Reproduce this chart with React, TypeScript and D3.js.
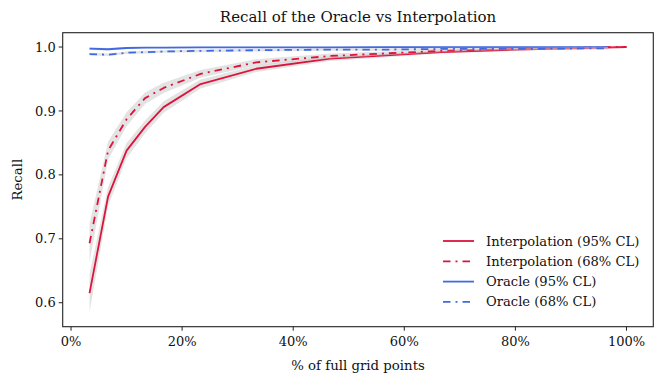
import React from 'react';
import * as d3 from 'd3';

// % of full grid points
const xInterp = [3.33, 6.67, 10, 13.33, 16.67, 23.33, 33.33, 46.67, 56.67, 66.67, 80, 90, 100];
const interp95 = [0.615, 0.766, 0.838, 0.875, 0.906, 0.942, 0.966, 0.982, 0.987, 0.992, 0.996, 0.998, 1.0];
const interp95Err = [0.03, 0.015, 0.012, 0.01, 0.009, 0.007, 0.005, 0.004, 0.003, 0.002, 0.002, 0.001, 0.0];
const interp68 = [0.693, 0.838, 0.887, 0.92, 0.936, 0.958, 0.976, 0.986, 0.99, 0.994, 0.997, 0.999, 1.0];
const interp68Err = [0.03, 0.014, 0.011, 0.009, 0.008, 0.006, 0.005, 0.004, 0.003, 0.002, 0.001, 0.001, 0.0];

const xOracle = [3.33, 6.67, 10, 13.33, 16.67, 23.33, 33.33, 46.67, 56.67, 66.67, 80, 96.67];
const oracle95 = [0.9975, 0.9965, 0.9985, 0.999, 0.9992, 0.9994, 0.9995, 0.9996, 0.9997, 0.9998, 0.9998, 0.9999];
const oracle95Err = [0.002, 0.002, 0.0015, 0.001, 0.001, 0.001, 0.001, 0.001, 0.001, 0.001, 0.001, 0.001];
const oracle68 = [0.989, 0.988, 0.991, 0.992, 0.993, 0.994, 0.995, 0.996, 0.996, 0.997, 0.997, 0.998];
const oracle68Err = [0.002, 0.002, 0.002, 0.002, 0.002, 0.002, 0.002, 0.002, 0.002, 0.002, 0.002, 0.002];

const xTicks = [0, 20, 40, 60, 80, 100];
const yTicks = [0.6, 0.7, 0.8, 0.9, 1.0];

const legendLabels = ['Interpolation (95% CL)', 'Interpolation (68% CL)', 'Oracle (95% CL)', 'Oracle (68% CL)'];

const RED = '#dc143c';
const BLUE = '#4169e1';
const DASH = '7.5,5,2,5';
const FONT = '"DejaVu Serif", serif';

const W = 665, H = 384;
const left = 62.7, right = 653.3, top = 32.7, bottom = 326.7;

export default function App() {
  const x = d3.scaleLinear().domain([-1.5, 104.83]).range([left, right]);
  const y = d3.scaleLinear().domain([0.5625, 1.0224]).range([bottom, top]);

  const mk = (xs: number[], ys: number[]) => {
    const line = d3.line<number>().x((d, i) => x(xs[i])).y(d => y(d));
    return line(ys) || '';
  };
  const band = (xs: number[], ys: number[], err: number[]) => {
    const area = d3.area<number>()
      .x((d, i) => x(xs[i]))
      .y0((d, i) => y(ys[i] - err[i]))
      .y1((d, i) => y(ys[i] + err[i]));
    return area(ys) || '';
  };

  const series = [
    { xs: xInterp, ys: interp95, err: interp95Err, color: RED, dash: null },
    { xs: xInterp, ys: interp68, err: interp68Err, color: RED, dash: DASH },
    { xs: xOracle, ys: oracle95, err: oracle95Err, color: BLUE, dash: null },
    { xs: xOracle, ys: oracle68, err: oracle68Err, color: BLUE, dash: DASH },
  ];

  return (
    <svg width={W} height={H} style={{ position: 'absolute', left: 0, top: 0 }} fontFamily={FONT}>
      <rect x={0} y={0} width={W} height={H} fill="white" />
      <defs>
        <clipPath id="plot">
          <rect x={left} y={top} width={right - left} height={bottom - top} />
        </clipPath>
      </defs>
      <g clipPath="url(#plot)">
        {series.map((s, i) => (
          <g key={i}>
            <path d={band(s.xs, s.ys, s.err)} fill="#c8c8c8" fillOpacity={0.5} stroke="none" />
            <path d={mk(s.xs, s.ys)} fill="none" stroke={s.color} strokeWidth={1.8}
              strokeDasharray={s.dash || undefined} strokeLinejoin="round" />
          </g>
        ))}
      </g>
      <rect x={left} y={top} width={right - left} height={bottom - top} fill="none" stroke="#222" strokeWidth={1.1} />

      {xTicks.map(t => (
        <g key={t} transform={`translate(${x(t)},${bottom})`}>
          <line y2={4} stroke="#222" strokeWidth={1} />
          <text y={19} textAnchor="middle" fontSize={13} fill="#111">{t + '%'}</text>
        </g>
      ))}
      {yTicks.map(t => (
        <g key={t} transform={`translate(${left},${y(t)})`}>
          <line x2={-4} stroke="#222" strokeWidth={1} />
          <text x={-7} dy="0.35em" textAnchor="end" fontSize={13} fill="#111">{t.toFixed(1)}</text>
        </g>
      ))}

      <text x={(left + right) / 2} y={22} textAnchor="middle" fontSize={15} fill="#111">
        Recall of the Oracle vs Interpolation
      </text>
      <text x={(left + right) / 2} y={370} textAnchor="middle" fontSize={13.3} fill="#111">
        % of full grid points
      </text>
      <text transform={`translate(22,${(top + bottom) / 2}) rotate(-90)`} textAnchor="middle" fontSize={13.3} fill="#111">
        Recall
      </text>

      {legendLabels.map((lab, i) => (
        <g key={lab} transform={`translate(443,${241 + i * 20.3})`}>
          <line x1={0} x2={31} stroke={series[i].color} strokeWidth={1.8}
            strokeDasharray={series[i].dash || undefined} />
          <text x={43} dy="0.35em" fontSize={13.1} fill="#111">{lab}</text>
        </g>
      ))}
    </svg>
  );
}
